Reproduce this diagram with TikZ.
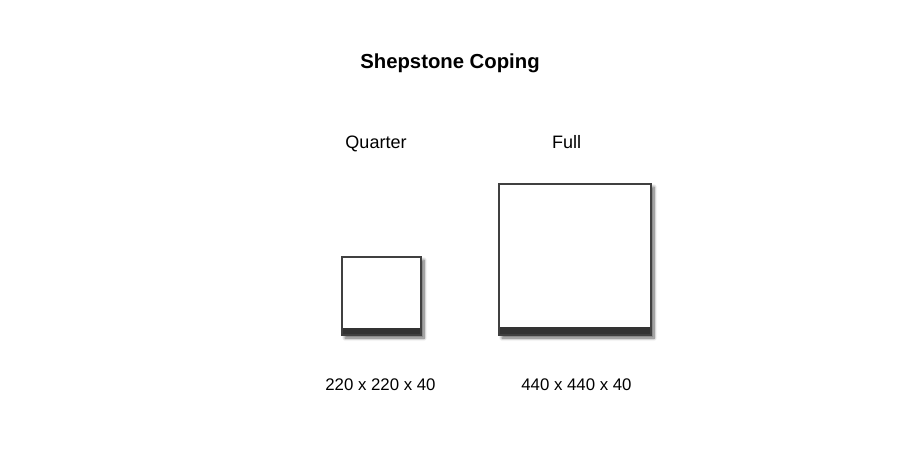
\documentclass[tikz,border=0pt]{standalone}
\usepackage{fontspec}
\setmainfont{Liberation Sans}
\usetikzlibrary{shadows.blur}
\begin{document}
\begin{tikzpicture}[x=1pt,y=-1pt,
  tile/.style={draw=black!75,line width=1.3pt,fill=white,inner sep=0pt,outer sep=0pt,
    blur shadow={shadow xshift=3pt,shadow yshift=-3pt,shadow blur steps=8,shadow opacity=60,shadow blur radius=3pt}},
  band/.style={fill=black!80,draw=none},
  lbl/.style={anchor=base,inner sep=0pt,font=\fontsize{18}{20}\selectfont},
  dim/.style={anchor=base,inner sep=0pt,font=\fontsize{16.8}{20}\selectfont}]
\useasboundingbox (0,0) rectangle (900,451);
\node[anchor=base,inner sep=0pt,font=\fontsize{20.3}{22}\selectfont\bfseries] (title) at (450,68) {Shepstone Coping};
\node[lbl] (q) at (376,148) {Quarter};
\node[lbl] (f) at (566.5,148) {Full};
\node[tile,minimum width=79pt,minimum height=78pt] (qt) at (381.5,296) {};
\path[band] (qt.south west) rectangle ([yshift=7pt]qt.south east);
\draw[black!75,line width=1.3pt] (qt.south west) rectangle (qt.north east);
\node[tile,minimum width=152pt,minimum height=151pt] (ft) at (575,259.5) {};
\path[band] (ft.south west) rectangle ([yshift=8pt]ft.south east);
\draw[black!75,line width=1.3pt] (ft.south west) rectangle (ft.north east);
\node[dim] (qd) at (380.5,390) {220 x 220 x 40};
\node[dim] (fd) at (576.5,390) {440 x 440 x 40};
\end{tikzpicture}
\end{document}
